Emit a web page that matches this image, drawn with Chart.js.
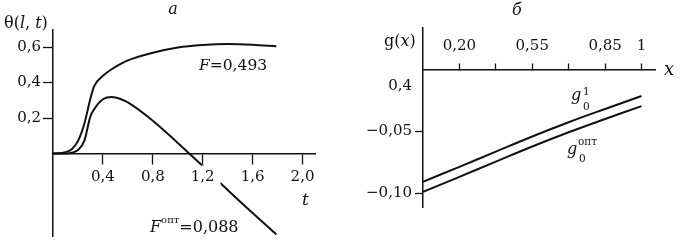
<!DOCTYPE html>
<html><head><meta charset="utf-8">
<script src="https://cdn.jsdelivr.net/npm/chart.js@4/dist/chart.umd.min.js"></script>
<style>
html,body{margin:0;padding:0;background:#fff;}
#wrap{position:relative;width:687px;height:247px;overflow:hidden;font-family:"DejaVu Serif",serif;color:#111;}
#c1box{position:absolute;left:0;top:0;width:340px;height:247px;}
#c2box{position:absolute;left:340px;top:0;width:347px;height:247px;}
.lbl{position:absolute;white-space:nowrap;line-height:1;}
</style></head><body>
<div id="wrap">
<div id="c1box"><canvas id="c1" width="340" height="247"></canvas></div>
<div id="c2box"><canvas id="c2" width="347" height="247"></canvas></div>
</div>
<script>
// ---- Panel а: θ(l, t) vs t ----
const tValues   = [0, 0.1, 0.15, 0.2, 0.25, 0.3, 0.33, 0.4, 0.47, 0.55, 0.6, 0.8, 1.0, 1.2, 1.4, 1.6, 1.79];
const thetaF    = [0, 0.008, 0.025, 0.07, 0.165, 0.31, 0.38, 0.438, 0.475, 0.508, 0.525, 0.568, 0.598, 0.612, 0.617, 0.613, 0.604];
const thetaFopt = [0, 0.001, 0.005, 0.02, 0.07, 0.21, 0.25, 0.306, 0.319, 0.305, 0.288, 0.185, 0.06, -0.07, -0.205, -0.335, -0.455];
const leftXTicks = [0.4, 0.8, 1.2, 1.6, 2.0];
const leftXTickLabels = ['0,4', '0,8', '1,2', '1,6', '2,0'];
const leftYTicks = [0.2, 0.4, 0.6];
const leftYTickLabels = ['0,2', '0,4', '0,6'];

// ---- Panel б: g(x) ----
const xPositions = [0, 1, 2, 3, 4, 5, 6];
const g01   = [-0.0905, -0.0785, -0.0662, -0.0540, -0.0425, -0.0318, -0.0214];
const g0opt = [-0.0986, -0.0866, -0.0743, -0.0621, -0.0506, -0.0399, -0.0295];
const rightXTicks = [1, 2, 3, 4, 5, 6];
const rightXTickLabels = ['0,20', '', '0,55', '', '0,85', '1'];
const rightYTicks = [-0.10, -0.05, -0.013];
const rightYTickLabels = ['\u22120,10', '\u22120,05', '0,4'];

const INK = '#111';
const tickFont = {family: 'DejaVu Serif', size: 15};

function pts(xs, ys) { return xs.map((x, i) => ({x: x, y: ys[i]})); }
function lineDs(data, smooth) {
  const d = {data: data, borderColor: INK, borderWidth: 2, pointRadius: 0, fill: false};
  if (smooth === 'mono') d.cubicInterpolationMode = 'monotone'; else d.tension = 0.4;
  return d;
}

new Chart(document.getElementById('c1'), {
  type: 'line',
  data: {datasets: [lineDs(pts(tValues, thetaF), 'mono'), lineDs(pts(tValues, thetaFopt), 'mono')]},
  options: {
    responsive: false, animation: false, devicePixelRatio: 1,
    layout: {padding: {left: 0, right: 25, top: 30, bottom: 7}},
    plugins: {legend: {display: false}, tooltip: {enabled: false}},
    scales: {
      x: {
        type: 'linear', min: 0, max: 2.1, position: {y: 0},
        grid: {drawOnChartArea: false, drawTicks: true, tickLength: 10, tickColor: INK, tickWidth: 1.3},
        border: {display: true, color: INK, width: 1.5},
        afterBuildTicks: s => { s.ticks = leftXTicks.map(v => ({value: v})); },
        ticks: {autoSkip: false, maxRotation: 0, padding: 5, color: INK, font: tickFont, z: 1,
          callback: v => leftXTickLabels[leftXTicks.indexOf(v)],
          showLabelBackdrop: true, backdropColor: '#fff',
          backdropPadding: {top: 3, bottom: 2, left: 3, right: 6}}
      },
      y: {
        type: 'linear', min: -0.464, max: 0.696, position: 'left',
        afterFit: s => { s.width = 53; },
        grid: {drawOnChartArea: false, drawTicks: true, tickLength: 10, tickColor: INK, tickWidth: 1.3},
        border: {display: true, color: INK, width: 1.5},
        afterBuildTicks: s => { s.ticks = leftYTicks.map(v => ({value: v})); },
        ticks: {autoSkip: false, padding: 2, color: INK, font: tickFont,
          callback: v => leftYTickLabels[leftYTicks.indexOf(v)]}
      }
    }
  }
});

new Chart(document.getElementById('c2'), {
  type: 'line',
  data: {datasets: [lineDs(pts(xPositions, g01)), lineDs(pts(xPositions, g0opt))]},
  options: {
    responsive: false, animation: false, devicePixelRatio: 1,
    layout: {padding: {left: 0, right: 32, top: 28, bottom: 40}},
    plugins: {legend: {display: false}, tooltip: {enabled: false}},
    scales: {
      x: {
        type: 'linear', min: 0, max: 6.37, position: {y: 0},
        grid: {drawOnChartArea: false, drawTicks: true, tickLength: -7, tickColor: INK, tickWidth: 1.3},
        border: {display: true, color: INK, width: 1.5},
        afterBuildTicks: s => { s.ticks = rightXTicks.map(v => ({value: v})); },
        ticks: {autoSkip: false, maxRotation: 0, padding: -25, color: INK, font: tickFont,
          callback: v => rightXTickLabels[rightXTicks.indexOf(v)]}
      },
      y: {
        type: 'linear', min: -0.1109, max: 0.0335, position: 'left',
        afterFit: s => { s.width = 83; },
        grid: {drawOnChartArea: false, drawTicks: true, tickLength: 8, tickWidth: 1.3,
          tickColor: ctx => (ctx.index === 2 ? 'rgba(0,0,0,0)' : INK)},
        border: {display: true, color: INK, width: 1.5},
        afterBuildTicks: s => { s.ticks = rightYTicks.map(v => ({value: v})); },
        ticks: {autoSkip: false, padding: 3, color: INK, font: tickFont,
          callback: v => rightYTickLabels[rightYTicks.indexOf(v)]}
      }
    }
  }
});

// ---- text annotations (real HTML text) ----
const labels = [
  {x: 173, y: 15, size: 16, center: true, html: '<i>а</i>'},
  {x: 4, y: 29, size: 16, html: 'θ(<i>l</i>, <i>t</i>)'},
  {x: 199, y: 71, size: 15.5, html: '<i>F</i>=0,493'},
  {x: 302, y: 205, size: 17, html: '<i>t</i>'},
  {x: 150, y: 233, size: 16, html: '<i>F</i><span style="font-size:10px;position:relative;top:-9px">опт</span>=0,088'},
  {x: 517, y: 16, size: 16, center: true, html: '<i>б</i>'},
  {x: 384, y: 47, size: 16, html: 'g(<i>x</i>)'},
  {x: 664, y: 75, size: 18, html: '<i>x</i>'},
  {x: 571, y: 101, size: 16, html: '<i>g</i>'},
  {x: 583, y: 95, size: 10.5, html: '1'},
  {x: 583, y: 110, size: 10.5, html: '0'},
  {x: 567, y: 155, size: 16, html: '<i>g</i>'},
  {x: 578, y: 145, size: 10.5, html: 'опт'},
  {x: 579, y: 162, size: 10.5, html: '0'}
];
const wrap = document.getElementById('wrap');
labels.forEach(l => {
  const d = document.createElement('div');
  d.className = 'lbl';
  d.style.fontSize = l.size + 'px';
  d.style.left = l.x + 'px';
  d.style.top = (l.y - 0.846 * l.size) + 'px';
  if (l.center) d.style.transform = 'translateX(-50%)';
  d.innerHTML = l.html;
  wrap.appendChild(d);
});
</script>
</body></html>
